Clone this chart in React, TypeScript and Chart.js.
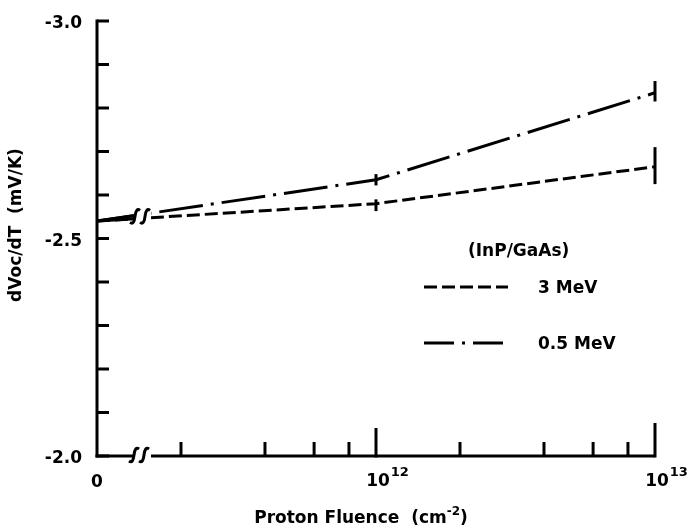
import React, { useEffect, useRef } from "react";
import { Chart, registerables } from "chart.js";

Chart.register(...registerables);

// ---- data ----
const FLUENCE = [0, 1e12, 1e13];
const DVDT_3MEV = [-2.54, -2.58, -2.665];
const DVDT_05MEV = [-2.54, -2.635, -2.835];
const ERR_3MEV_A = [null, -2.59, -2.71];
const ERR_3MEV_B = [null, -2.563, -2.625];
const ERR_05MEV_A = [null, -2.648, -2.862];
const ERR_05MEV_B = [null, -2.622, -2.815];

const SERIES_LABELS = ["3 MeV", "0.5 MeV"];
const LEGEND_TITLE = "(InP/GaAs)";

// ---- axes ----
const X_ORIGIN = 1e11; // position of "0" on the broken log axis
const X_MAX = 1e13;
const X_BREAK = 1.45e11;
const X_MINOR = [2e11, 4e11, 6e11, 8e11, 2e12, 4e12, 6e12, 8e12];
const X_MAJOR = [1e12, 1e13];
const X_MAJOR_EXP = ["12", "13"];
const Y_MIN = -3.0;
const Y_MAX = -2.0;
const Y_TICKS = [-3.0, -2.9, -2.8, -2.7, -2.6, -2.5, -2.4, -2.3, -2.2, -2.1, -2.0];
const Y_LABEL_VALUES = [-3.0, -2.5, -2.0];
const Y_LABEL_TEXT = ["-3.0", "-2.5", "-2.0"];
const X_TITLE = "Proton Fluence  (cm";
const X_TITLE_SUP = "-2";
const X_TITLE_END = ")";
const Y_TITLE = "dVoc/dT  (mV/K)";

const FONT = "'DejaVu Sans', sans-serif";
const DASH_3MEV = [13, 5];
const DASH_05MEV = [44, 8, 3, 8];

function drawBreak(ctx: CanvasRenderingContext2D, cx: number, cy: number) {
  for (const dx of [-5, 5]) {
    const x = cx + dx;
    ctx.beginPath();
    ctx.moveTo(x - 5, cy + 6);
    ctx.quadraticCurveTo(x - 1, cy + 9, x, cy);
    ctx.quadraticCurveTo(x + 1, cy - 9, x + 5, cy - 6);
    ctx.stroke();
  }
}

const customPlugin = {
  id: "customAxes",
  afterDatasetsDraw(chart: any) {
    const ctx: CanvasRenderingContext2D = chart.ctx;
    const xs = chart.scales.x;
    const ys = chart.scales.y;
    const left = xs.getPixelForValue(X_ORIGIN);
    const right = xs.getPixelForValue(X_MAX);
    const top = ys.getPixelForValue(Y_MIN);
    const bottom = ys.getPixelForValue(Y_MAX);
    const xb = xs.getPixelForValue(X_BREAK);

    ctx.save();
    ctx.strokeStyle = "#000";
    ctx.fillStyle = "#000";
    ctx.lineWidth = 3;
    ctx.lineCap = "butt";

    // solid overlapping segment before the break on the data lines
    const metas = [chart.getDatasetMeta(0), chart.getDatasetMeta(1)];
    let breakY = 0;
    metas.forEach((m: any) => {
      const p0 = m.data[0];
      const p1 = m.data[1];
      const t = (xb - 7 - p0.x) / (p1.x - p0.x);
      const yEnd = p0.y + (p1.y - p0.y) * t;
      ctx.beginPath();
      ctx.moveTo(p0.x, p0.y);
      ctx.lineTo(xb - 7, yEnd);
      ctx.stroke();
      breakY += (p0.y + (p1.y - p0.y) * ((xb - p0.x) / (p1.x - p0.x))) / 2;
    });
    // white gap + break symbol on lines
    ctx.fillStyle = "#fff";
    ctx.fillRect(xb - 7, breakY - 8, 16, 14);
    ctx.fillStyle = "#000";
    drawBreak(ctx, xb - 2, breakY);

    // y axis
    ctx.beginPath();
    ctx.moveTo(left, top - 1.5);
    ctx.lineTo(left, bottom + 1.5);
    ctx.stroke();
    Y_TICKS.forEach((v) => {
      const y = ys.getPixelForValue(v);
      ctx.beginPath();
      ctx.moveTo(left, y);
      ctx.lineTo(left + 12, y);
      ctx.stroke();
    });
    ctx.font = `bold 17px ${FONT}`;
    ctx.textAlign = "right";
    ctx.textBaseline = "middle";
    Y_LABEL_VALUES.forEach((v, i) => {
      ctx.fillText(Y_LABEL_TEXT[i], left - 15, ys.getPixelForValue(v) + 3);
    });

    // x axis with break
    ctx.beginPath();
    ctx.moveTo(left - 1.5, bottom);
    ctx.lineTo(xb - 9, bottom);
    ctx.moveTo(xb + 9, bottom);
    ctx.lineTo(right, bottom);
    ctx.stroke();
    drawBreak(ctx, xb - 3, bottom - 1);
    X_MINOR.forEach((v) => {
      const x = xs.getPixelForValue(v);
      ctx.beginPath();
      ctx.moveTo(x, bottom);
      ctx.lineTo(x, bottom - 14);
      ctx.stroke();
    });
    X_MAJOR.forEach((v, i) => {
      const x = xs.getPixelForValue(v);
      ctx.beginPath();
      ctx.moveTo(x, bottom + 1.5);
      ctx.lineTo(x, bottom - (i === 0 ? 28 : 33));
      ctx.stroke();
    });

    // x tick labels
    ctx.textAlign = "center";
    ctx.textBaseline = "alphabetic";
    ctx.font = `bold 17px ${FONT}`;
    ctx.fillText("0", left, bottom + 31);
    X_MAJOR.forEach((v, i) => {
      const x = xs.getPixelForValue(v);
      ctx.font = `bold 17px ${FONT}`;
      ctx.textAlign = "center";
      ctx.fillText("10", x + 2, bottom + 30);
      const w = ctx.measureText("10").width;
      ctx.font = `bold 13px ${FONT}`;
      ctx.textAlign = "left";
      ctx.fillText(X_MAJOR_EXP[i], x + 2 + w / 2 + 1, bottom + 20);
    });

    // x title
    ctx.font = `bold 17px ${FONT}`;
    const w1 = ctx.measureText(X_TITLE).width;
    const w3 = ctx.measureText(X_TITLE_END).width;
    ctx.font = `bold 12px ${FONT}`;
    const w2 = ctx.measureText(X_TITLE_SUP).width;
    const total = w1 + w2 + w3;
    const sx = 361 - total / 2;
    const by = 523;
    ctx.textAlign = "left";
    ctx.font = `bold 17px ${FONT}`;
    ctx.fillText(X_TITLE, sx, by);
    ctx.font = `bold 12px ${FONT}`;
    ctx.fillText(X_TITLE_SUP, sx + w1, by - 8);
    ctx.font = `bold 17px ${FONT}`;
    ctx.fillText(X_TITLE_END, sx + w1 + w2, by);

    // y title
    ctx.save();
    ctx.translate(17, 225);
    ctx.rotate(-Math.PI / 2);
    ctx.textAlign = "center";
    ctx.textBaseline = "middle";
    ctx.font = `bold 17px ${FONT}`;
    ctx.fillText(Y_TITLE, 0, 0);
    ctx.restore();

    // error bars
    const errs = [
      [ERR_3MEV_A, ERR_3MEV_B],
      [ERR_05MEV_A, ERR_05MEV_B],
    ];
    errs.forEach(([a, b]) => {
      FLUENCE.forEach((f, i) => {
        if (a[i] == null || b[i] == null) return;
        const x = xs.getPixelForValue(f === 0 ? X_ORIGIN : f);
        ctx.beginPath();
        ctx.moveTo(x, ys.getPixelForValue(a[i] as number));
        ctx.lineTo(x, ys.getPixelForValue(b[i] as number));
        ctx.stroke();
      });
    });

    // legend
    ctx.font = `bold 17px ${FONT}`;
    ctx.textAlign = "left";
    ctx.textBaseline = "middle";
    ctx.fillText(LEGEND_TITLE, 468, 252);
    const dashes = [[13, 5], [30, 8, 3, 8]];
    const ly = [287, 343];
    SERIES_LABELS.forEach((lab, i) => {
      ctx.setLineDash(dashes[i]);
      ctx.beginPath();
      ctx.moveTo(424, ly[i]);
      ctx.lineTo(508, ly[i]);
      ctx.stroke();
      ctx.setLineDash([]);
      ctx.fillText(lab, 538, ly[i] + 2);
    });

    ctx.restore();
  },
};

export default function App() {
  const ref = useRef<HTMLCanvasElement | null>(null);
  useEffect(() => {
    document.body.style.margin = "0";
    const canvas = ref.current;
    if (!canvas) return;
    const toPoints = (vals: number[]) =>
      FLUENCE.map((f, i) => ({ x: f === 0 ? X_ORIGIN : f, y: vals[i] }));
    const chart = new Chart(canvas, {
      type: "line",
      data: {
        datasets: [
          {
            label: SERIES_LABELS[0],
            data: toPoints(DVDT_3MEV),
            borderColor: "#000",
            borderWidth: 3,
            borderDash: DASH_3MEV,
            pointRadius: 0,
            tension: 0,
            fill: false,
          },
          {
            label: SERIES_LABELS[1],
            data: toPoints(DVDT_05MEV),
            borderColor: "#000",
            borderWidth: 3,
            borderDash: DASH_05MEV,
            pointRadius: 0,
            tension: 0,
            fill: false,
          },
        ],
      },
      options: {
        animation: false,
        responsive: false,
        maintainAspectRatio: false,
        layout: { padding: { left: 97, right: 37, top: 21, bottom: 73 } },
        scales: {
          x: { type: "logarithmic", min: X_ORIGIN, max: X_MAX, display: false },
          y: { type: "linear", min: Y_MIN, max: Y_MAX, reverse: true, display: false },
        },
        plugins: { legend: { display: false }, tooltip: { enabled: false } },
      },
      plugins: [customPlugin],
    } as any);
    return () => chart.destroy();
  }, []);
  return (
    <div style={{ width: 692, height: 529, background: "#fff" }}>
      <canvas ref={ref} width={692} height={529} />
    </div>
  );
}
